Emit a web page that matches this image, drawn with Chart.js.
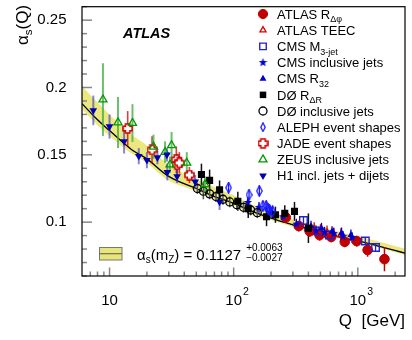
<!DOCTYPE html>
<html><head><meta charset="utf-8">
<script src="https://cdn.jsdelivr.net/npm/chart.js@4.4.1/dist/chart.umd.min.js"></script>
<style>html,body{margin:0;padding:0;background:#fff}canvas{display:block}</style>
</head><body>
<canvas id="c" width="412" height="340"></canvas>
<script>
const FONT = "'Liberation Sans', Arial, Helvetica, sans-serif";

// ---- fit curve and uncertainty band ----
const curveQ     = [6, 8, 10, 15, 20, 30, 50, 70, 100, 150, 200, 300, 500, 700, 1000, 1500, 2400];
const curveAlpha = [0.188, 0.176, 0.168, 0.154, 0.147, 0.134, 0.125, 0.119, 0.114, 0.107, 0.103, 0.098, 0.093, 0.089, 0.086, 0.082, 0.0770];
const bandHigh   = [0.201, 0.189, 0.180, 0.165, 0.157, 0.143, 0.132, 0.126, 0.120, 0.112, 0.108, 0.102, 0.097, 0.093, 0.0895, 0.0855, 0.0803];
const bandLow    = [0.184, 0.172, 0.164, 0.151, 0.144, 0.131, 0.123, 0.117, 0.112, 0.105, 0.1015, 0.0965, 0.0915, 0.0878, 0.0848, 0.0808, 0.0756];

// ---- measurements ----
const atlasRdphiQ = [263, 335, 410, 492, 610, 785, 981, 1200, 1640];
const atlasRdphiA = [0.1035, 0.0971, 0.0932, 0.0903, 0.0890, 0.0854, 0.0859, 0.0793, 0.0725];
const atlasRdphiE = [0.004, 0.004, 0.004, 0.004, 0.004, 0.004, 0.004, 0.005, 0.009];

const atlasTeecQ = [395, 445, 500, 565, 640, 730];
const atlasTeecA = [0.0955, 0.0950, 0.0935, 0.0925, 0.0910, 0.0905];
const atlasTeecE = [0.005, 0.005, 0.005, 0.005, 0.005, 0.005];

const cmsM3Q = [365, 480, 590, 1150, 1390];
const cmsM3A = [0.1012, 0.0935, 0.0905, 0.0860, 0.0812];
const cmsM3E = [0.003, 0.003, 0.003, 0.003, 0.003];

const cmsInclQ = [130, 160, 200, 250, 320, 390, 460, 540, 640, 760, 900];
const cmsInclA = [0.1146, 0.1110, 0.1075, 0.1040, 0.0985, 0.0955, 0.0935, 0.0925, 0.0915, 0.0895, 0.0885];
const cmsInclE = [0.004, 0.004, 0.004, 0.004, 0.004, 0.004, 0.004, 0.004, 0.004, 0.004, 0.004];

const cmsR32Q = [420, 510, 620, 740, 880];
const cmsR32A = [0.0970, 0.0955, 0.0930, 0.0920, 0.0905];
const cmsR32E = [0.004, 0.004, 0.004, 0.004, 0.004];

const d0RdrQ = [55, 64, 77, 108, 131, 184, 217, 258, 309, 400];
const d0RdrA = [0.1354, 0.1310, 0.1240, 0.1155, 0.1100, 0.1040, 0.1055, 0.1066, 0.1080, 0.0955];
const d0RdrE = [0.008, 0.008, 0.007, 0.007, 0.007, 0.007, 0.006, 0.006, 0.007, 0.011];

const d0InclQ = [51, 57, 64, 72, 82, 93, 106, 120, 137, 155];
const d0InclA = [0.1250, 0.1230, 0.1210, 0.1190, 0.1170, 0.1150, 0.1130, 0.1110, 0.1090, 0.1070];
const d0InclE = [0.004, 0.006, 0.004, 0.004, 0.004, 0.004, 0.004, 0.004, 0.004, 0.004];

const alephQ = [91, 133, 161, 172, 183, 189, 195, 206];
const alephA = [0.1256, 0.1203, 0.1232, 0.1120, 0.1120, 0.1100, 0.1090, 0.1080];
const alephE = [0.004, 0.004, 0.004, 0.004, 0.004, 0.004, 0.004, 0.004];

const jadeQ = [14, 22, 34.5, 35, 36.5, 44];
const jadeA = [0.1695, 0.1537, 0.1463, 0.1427, 0.1440, 0.1350];
const jadeE = [0.013, 0.010, 0.010, 0.008, 0.008, 0.006];

const zeusQ = [8.85, 11.7, 15.3, 22.6, 28, 30.7, 31.6, 41.9, 58.7];
const zeusA = [0.191, 0.174, 0.1736, 0.156, 0.152, 0.1427, 0.157, 0.144, 0.128];
const zeusE = [0.027, 0.019, 0.014, 0.009, 0.008, 0.006, 0.010, 0.008, 0.006];

const h1Q = [7.4, 10, 13.1, 17.2, 20, 24.3, 29, 29.2, 35, 49, 77];
const h1A = [0.183, 0.171, 0.160, 0.149, 0.146, 0.148, 0.150, 0.137, 0.134, 0.130, 0.115];
const h1E = [0.011, 0.009, 0.009, 0.006, 0.006, 0.005, 0.005, 0.006, 0.005, 0.005, 0.006];

// ---- axis ticks and labels ----
const yTickValues = [0.1, 0.15, 0.2, 0.25];
const yTickLabels = ['0.1', '0.15', '0.2', '0.25'];
const xMajorTicks = [10, 100, 1000];
const xMajorBase = ['10', '10', '10'];
const xMajorExp = ['', '2', '3'];
const xMinorTicks = [7, 8, 9, 20, 30, 40, 50, 60, 70, 80, 90, 200, 300, 400, 500, 600, 700, 800, 900, 2000];

// ---- legend texts ----
const legendMain = ['ATLAS R', 'ATLAS TEEC', 'CMS M', 'CMS inclusive jets', 'CMS R', 'DØ R', 'DØ inclusive jets', 'ALEPH event shapes', 'JADE event shapes', 'ZEUS inclusive jets', 'H1 incl. jets + dijets'];
const legendSub  = ['Δφ', '', '3-jet', '', '32', 'ΔR', '', '', '', '', ''];

// ---- custom marker images ----
function makeStar(color, size) {
  const c = document.createElement('canvas'); c.width = c.height = size;
  const g = c.getContext('2d'); g.fillStyle = color; g.beginPath();
  const cx = size / 2, cy = size / 2, R = size / 2, r = R * 0.42;
  for (let i = 0; i < 10; i++) { const a = -Math.PI / 2 + i * Math.PI / 5; const rr = i % 2 ? r : R; g.lineTo(cx + rr * Math.cos(a), cy + rr * Math.sin(a)); }
  g.closePath(); g.fill(); return c;
}
function makeOpenCross(color, size) {
  const c = document.createElement('canvas'); c.width = c.height = size;
  const g = c.getContext('2d'); const m = size / 2, a = size * 0.2, R = size / 2 - 1;
  g.beginPath();
  g.moveTo(m - a, m - R); g.lineTo(m + a, m - R); g.lineTo(m + a, m - a); g.lineTo(m + R, m - a);
  g.lineTo(m + R, m + a); g.lineTo(m + a, m + a); g.lineTo(m + a, m + R); g.lineTo(m - a, m + R);
  g.lineTo(m - a, m + a); g.lineTo(m - R, m + a); g.lineTo(m - R, m - a); g.lineTo(m - a, m - a); g.closePath();
  g.fillStyle = '#fff'; g.fill(); g.strokeStyle = color; g.lineWidth = 1.6; g.stroke(); return c;
}
function makeDiamond(color, w, h) {
  const c = document.createElement('canvas'); c.width = w; c.height = h;
  const g = c.getContext('2d'); g.beginPath();
  g.moveTo(w / 2, 0.8); g.lineTo(w - 0.8, h / 2); g.lineTo(w / 2, h - 0.8); g.lineTo(0.8, h / 2); g.closePath();
  g.strokeStyle = color; g.lineWidth = 1.3; g.stroke(); return c;
}
const starImg = makeStar('#0000cc', 9);
const crossImg = makeOpenCross('#cc0000', 11);
const diamondImg = makeDiamond('#1a1aff', 7, 12);
const diamondLegendImg = makeDiamond('#1a1aff', 6, 10);

const pts = (q, a) => q.map((v, i) => ({ x: v, y: a[i] }));

const seriesDefs = [
  { q: atlasRdphiQ, a: atlasRdphiA, e: atlasRdphiE, style: 'circle', r: 4.8, bg: '#c00000', bd: '#c00000', bw: 1, ec: '#c00000', ew: 1.5 },
  { q: atlasTeecQ, a: atlasTeecA, e: atlasTeecE, style: 'triangle', r: 3.5, bg: 'rgba(0,0,0,0)', bd: '#e00000', bw: 1.3, ec: '#e00000', ew: 1.3 },
  { q: cmsM3Q, a: cmsM3A, e: cmsM3E, style: 'rect', r: 5.3, bg: 'rgba(0,0,0,0)', bd: '#2222cc', bw: 1.4, ec: '#2222cc', ew: 1.3 },
  { q: cmsInclQ, a: cmsInclA, e: cmsInclE, style: starImg, r: 4, bg: '#0000cc', bd: '#0000cc', bw: 0, ec: '#0000cc', ew: 1.3 },
  { q: cmsR32Q, a: cmsR32A, e: cmsR32E, style: 'triangle', r: 4, bg: '#0000cc', bd: '#0000cc', bw: 0, ec: '#0000cc', ew: 1.3 },
  { q: d0RdrQ, a: d0RdrA, e: d0RdrE, style: 'rect', r: 5, bg: '#000', bd: '#000', bw: 0, ec: '#111', ew: 1.5 },
  { q: d0InclQ, a: d0InclA, e: d0InclE, style: 'circle', r: 4, bg: 'rgba(0,0,0,0)', bd: '#000', bw: 1.3, ec: '#555', ew: 1.5 },
  { q: alephQ, a: alephA, e: alephE, style: diamondImg, lstyle: diamondLegendImg, r: 4, bg: 'rgba(0,0,0,0)', bd: '#1a1aff', bw: 1.3, ec: '#1a1aff', ew: 1.3 },
  { q: jadeQ, a: jadeA, e: jadeE, style: crossImg, r: 5, bg: '#fff', bd: '#cc0000', bw: 1.5, ec: 'rgba(200,0,0,0.75)', ew: 1.6 },
  { q: zeusQ, a: zeusA, e: zeusE, style: 'triangle', r: 4.6, bg: 'rgba(0,0,0,0)', bd: '#009900', bw: 1.3, ec: 'rgba(60,170,60,0.75)', ew: 2 },
  { q: h1Q, a: h1A, e: h1E, style: 'triangle', rot: 180, r: 4.4, bg: '#0000b0', bd: '#0000b0', bw: 0, ec: 'rgba(50,50,200,0.6)', ew: 2 }
];

const datasets = [
  { label: 'bandLow', data: pts(curveQ, bandLow), showLine: true, borderWidth: 0, pointRadius: 0, fill: false, tension: 0.4, order: 30, borderColor: 'rgba(0,0,0,0)' },
  { label: 'bandHigh', data: pts(curveQ, bandHigh), showLine: true, borderWidth: 0, pointRadius: 0, fill: '-1', backgroundColor: '#ebe882', tension: 0.4, order: 29, borderColor: 'rgba(0,0,0,0)' },
  { label: 'curve', data: pts(curveQ, curveAlpha), showLine: true, borderWidth: 1.3, borderColor: '#000', pointRadius: 0, fill: false, tension: 0.4, order: 28 }
];
seriesDefs.forEach((s, i) => {
  datasets.push({ label: 's' + i, data: pts(s.q, s.a), showLine: false, pointStyle: s.style, pointRotation: s.rot || 0,
    pointRadius: s.r, backgroundColor: s.bg, borderColor: s.bd, pointBorderWidth: s.bw, borderWidth: s.bw, order: 20 - i });
});

const decor = {
  id: 'decor',
  afterDatasetDraw(chart, args) {
    if (args.meta.label !== 'curve') return;
    const ctx = chart.ctx, xs = chart.scales.x, ys = chart.scales.y;
    ctx.save();
    seriesDefs.forEach(s => {
      ctx.strokeStyle = s.ec; ctx.lineWidth = s.ew;
      s.q.forEach((q, i) => {
        const px = xs.getPixelForValue(q);
        ctx.beginPath();
        ctx.moveTo(px, ys.getPixelForValue(s.a[i] + s.e[i]));
        ctx.lineTo(px, ys.getPixelForValue(s.a[i] - s.e[i]));
        ctx.stroke();
      });
    });
    ctx.restore();
  },
  afterDraw(chart) {
    const ctx = chart.ctx, ca = chart.chartArea, xs = chart.scales.x, ys = chart.scales.y;
    ctx.save();
    // ticks
    ctx.strokeStyle = '#888'; ctx.lineWidth = 1.5;
    ys.ticks.forEach(t => {
      const py = ys.getPixelForValue(t.value);
      const major = yTickValues.some(v => Math.abs(v - t.value) < 1e-6);
      ctx.beginPath(); ctx.moveTo(ca.left, py); ctx.lineTo(ca.left + (major ? 10 : 5), py); ctx.stroke();
    });
    xMajorTicks.forEach(v => { const px = xs.getPixelForValue(v); ctx.beginPath(); ctx.moveTo(px, ca.bottom); ctx.lineTo(px, ca.bottom - 8.5); ctx.stroke(); });
    xMinorTicks.forEach(v => { const px = xs.getPixelForValue(v); ctx.beginPath(); ctx.moveTo(px, ca.bottom); ctx.lineTo(px, ca.bottom - 4.5); ctx.stroke(); });
    // frame
    ctx.strokeStyle = '#000'; ctx.lineWidth = 1.2;
    ctx.strokeRect(ca.left, ca.top, ca.right - ca.left, ca.bottom - ca.top);
    ctx.fillStyle = '#000'; ctx.textBaseline = 'alphabetic';
    // x tick labels
    xMajorTicks.forEach((v, i) => {
      const px = xs.getPixelForValue(v);
      ctx.font = `15px ${FONT}`; ctx.textAlign = 'center';
      ctx.fillText(xMajorBase[i], px, 305);
      if (xMajorExp[i]) {
        const w = ctx.measureText(xMajorBase[i]).width;
        ctx.font = `10.5px ${FONT}`; ctx.textAlign = 'left';
        ctx.fillText(xMajorExp[i], px + w / 2 + 1, 294.5);
      }
    });
    ctx.textAlign = 'left';
    const run = (parts, x, y) => {
      parts.forEach(p => { ctx.font = `${p.s}px ${FONT}`; ctx.fillText(p.t, x, y + (p.dy || 0)); x += ctx.measureText(p.t).width; });
      return x;
    };
    // y title
    ctx.save(); ctx.translate(27.5, 45); ctx.rotate(-Math.PI / 2);
    run([{ t: 'α', s: 17 }, { t: 's', s: 11.5, dy: 4 }, { t: '(Q)', s: 17 }], 0, 0);
    ctx.restore();
    // ATLAS label
    ctx.font = `italic bold 14.5px ${FONT}`;
    ctx.fillText('ATLAS', 123, 37.5);
    // legend
    const lx = 263, tx = 277, y0 = 14, dy = 16.17;
    seriesDefs.forEach((s, i) => {
      const y = y0 + i * dy;
      ctx.save();
      ctx.fillStyle = s.bg; ctx.strokeStyle = s.bd; ctx.lineWidth = s.bw;
      Chart.helpers.drawPoint(ctx, { pointStyle: s.lstyle || s.style, rotation: s.rot || 0, radius: Math.min(s.r, 4.6), borderWidth: s.bw }, lx, y);
      ctx.restore();
      ctx.fillStyle = '#000';
      const parts = [{ t: legendMain[i], s: 13 }];
      if (legendSub[i]) parts.push({ t: legendSub[i], s: 9, dy: 3.5 });
      run(parts, tx, y + 4.7);
    });
    // band legend
    ctx.fillStyle = '#e8e57a'; ctx.fillRect(99.5, 247.5, 22.5, 12.5);
    ctx.strokeStyle = '#777'; ctx.lineWidth = 1; ctx.strokeRect(99.5, 247.5, 22.5, 12.5);
    ctx.strokeStyle = '#555'; ctx.beginPath(); ctx.moveTo(99.5, 253.75); ctx.lineTo(122, 253.75); ctx.stroke();
    ctx.fillStyle = '#000';
    const ex = run([{ t: 'α', s: 15 }, { t: 's', s: 10, dy: 3.5 }, { t: '(m', s: 15 }, { t: 'Z', s: 10, dy: 3.5 }, { t: ') = 0.1127', s: 15 }], 137, 259.5);
    ctx.font = `10px ${FONT}`;
    ctx.fillText('+0.0063', ex + 5, 250.5);
    ctx.fillText('−0.0027', ex + 5, 261);
    ctx.restore();
  }
};

Chart.defaults.font.family = FONT;
Chart.defaults.color = '#000';
new Chart(document.getElementById('c'), {
  type: 'scatter',
  data: { datasets },
  options: {
    responsive: false, animation: false, events: [],
    layout: { padding: { top: 3, right: 7, left: 0, bottom: 0 } },
    plugins: { legend: { display: false }, tooltip: { enabled: false } },
    scales: {
      x: { type: 'logarithmic', min: 6, max: 2400,
        afterFit: s => { s.height = 64; s.paddingLeft = 0; s.paddingRight = 0; },
        grid: { display: false, drawTicks: false }, border: { display: false },
        ticks: { display: false },
        title: { display: true, text: 'Q  [GeV]', align: 'end', color: '#000', font: { size: 17, family: FONT }, padding: { top: 0, bottom: 8 } } },
      y: { type: 'linear', min: 0.06, max: 0.26,
        afterFit: s => { s.width = 82; s.paddingTop = 0; s.paddingBottom = 0; },
        grid: { display: false, drawTicks: false }, border: { display: false },
        ticks: { stepSize: 0.01, autoSkip: false, padding: 15.5, color: '#000', font: { size: 15, family: FONT },
          callback: v => { const i = yTickValues.findIndex(t => Math.abs(t - v) < 1e-6); return i >= 0 ? yTickLabels[i] : ''; } } }
    }
  },
  plugins: [decor]
});
</script>
</body></html>
